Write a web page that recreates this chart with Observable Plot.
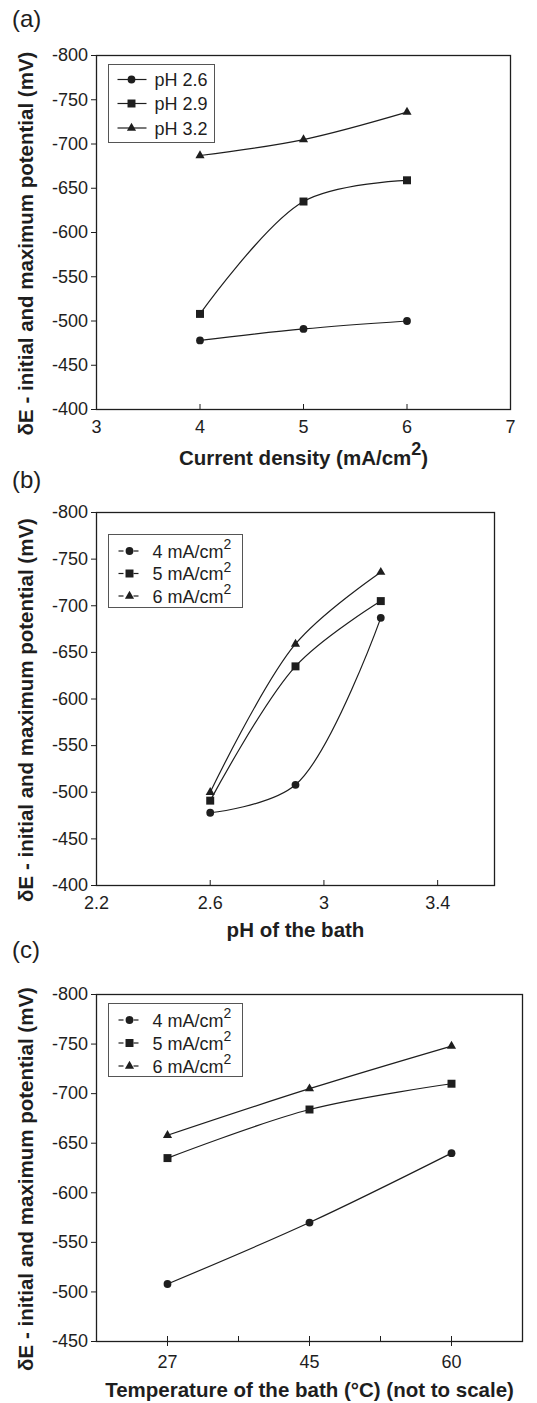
<!DOCTYPE html>
<html>
<head>
<meta charset="utf-8">
<script src="https://cdn.jsdelivr.net/npm/d3@7"></script>
<script src="https://cdn.jsdelivr.net/npm/@observablehq/plot@0.6"></script>
<style>
  html, body { margin: 0; padding: 0; background: #fff; }
  #root { position: relative; width: 537px; height: 1403px; overflow: hidden; background: #fff; }
  #root svg { position: absolute; left: 0; }
  g[aria-label="x-axis label"] text, g[aria-label="y-axis label"] text { font-weight: bold; font-size: 20.5px; }
</style>
</head>
<body>
<div id="root"></div>
<script>
// ---------------- data ----------------
// (a) potential vs current density, one series per bath pH
const currentDensity = [4, 5, 6];                 // mA/cm²
const pHNames = ["pH 2.6", "pH 2.9", "pH 3.2"];
const pH26 = [-478, -491, -500];
const pH29 = [-508, -635, -659];
const pH32 = [-687, -705, -736];

// (b) potential vs bath pH, one series per current density
const bathPH = [2.6, 2.9, 3.2];
const cdNames = ["4 mA/cm²", "5 mA/cm²", "6 mA/cm²"];
const cd4_pH = [-478, -508, -687];
const cd5_pH = [-491, -635, -705];
const cd6_pH = [-500, -659, -736];

// (c) potential vs bath temperature (categorical, not to scale)
const temperatures = ["27", "45", "60"];          // °C
const cd4_T = [-508, -570, -640];
const cd5_T = [-635, -684, -710];
const cd6_T = [-658, -705, -748];

// ticks and titles
const yTicksAB = [-800, -750, -700, -650, -600, -550, -500, -450, -400];
const yTicksC  = [-800, -750, -700, -650, -600, -550, -500, -450];
const xTicksA  = [3, 4, 5, 6, 7];
const xTicksB  = [2.2, 2.6, 3, 3.4];
const yTitle   = "δE - initial and maximum potential (mV)";
const xTitleA  = "Current density (mA/cm²)";
const xTitleB  = "pH of the bath";
const xTitleC  = "Temperature of the bath (°C) (not to scale)";
const panelTags = ["(a)", "(b)", "(c)"];

// ---------------- style ----------------
const INK = "#1e1e1e";
const FONT = '"Liberation Sans", Arial, Helvetica, sans-serif';
const SYMBOLS = ["circle", "square", "triangle"];
const RADII = [3.9, 4.5, 3.4];
const W = 537;
const SVGNS = "http://www.w3.org/2000/svg";

function yAxis(ticks) {
  return Plot.axisY({ticks, tickSize: 5, tickPadding: 3.5, tickFormat: d => String(d),
    label: yTitle, labelAnchor: "center", labelOffset: 78, labelArrow: "none"});
}

function makePanel(p) {
  const rows = [];
  p.series.forEach((vals, si) => vals.forEach((v, i) => rows.push({s: si, x: p.xs[i], y: v})));
  const marks = [Plot.frame({stroke: INK, strokeWidth: 1.3}), yAxis(p.yTicks), ...p.xAxes];
  p.series.forEach((_, si) => {
    const d = rows.filter(r => r.s === si);
    marks.push(Plot.line(d, {x: "x", y: "y", curve: "catmull-rom", stroke: INK, strokeWidth: 1.2}));
    marks.push(Plot.dot(d, {x: "x", y: "y", symbol: SYMBOLS[si], r: RADII[si], fill: INK, stroke: "none"}));
  });
  const svg = Plot.plot({
    width: W, height: p.height,
    marginTop: p.m[0], marginRight: p.m[1], marginBottom: p.m[2], marginLeft: p.m[3],
    style: {fontFamily: FONT, fontSize: "18px", color: INK, background: "transparent", overflow: "visible"},
    x: {type: "linear", domain: p.xDomain},
    y: {type: "linear", domain: p.yDomain},
    marks
  });
  svg.style.top = p.top + "px";
  return svg;
}

// write text with "²" rendered as a raised digit
function supText(el, str, supSize, rise) {
  while (el.firstChild) el.removeChild(el.firstChild);
  str.split("²").forEach((part, i) => {
    if (i > 0) {
      const s = document.createElementNS(SVGNS, "tspan");
      s.setAttribute("dy", -rise); s.setAttribute("font-size", supSize); s.textContent = "2";
      el.appendChild(s);
      if (part) {
        const t = document.createElementNS(SVGNS, "tspan");
        t.setAttribute("dy", rise); t.textContent = part;
        el.appendChild(t);
      }
    } else if (part) el.appendChild(document.createTextNode(part));
  });
}

const root = document.getElementById("root");

const panels = [
  makePanel({
    top: 0, height: 475, m: [55, 27, 66, 96],
    xDomain: [3, 7], yDomain: [-400, -800], yTicks: yTicksAB,
    xs: currentDensity, series: [pH26, pH29, pH32],
    xAxes: [Plot.axisX({ticks: xTicksA, tickSize: -5, tickPadding: 16, tickFormat: d => String(d),
      label: xTitleA, labelAnchor: "center", labelOffset: 55, labelArrow: "none"})]
  }),
  makePanel({
    top: 475, height: 475, m: [37, 43, 65, 96],
    xDomain: [2.2, 3.6], yDomain: [-400, -800], yTicks: yTicksAB,
    xs: bathPH, series: [cd4_pH, cd5_pH, cd6_pH],
    xAxes: [Plot.axisX({ticks: xTicksB, tickSize: -5, tickPadding: 16, tickFormat: d => String(d),
      label: xTitleB, labelAnchor: "center", labelOffset: 51, labelArrow: "none"})]
  }),
  makePanel({
    top: 950, height: 453, m: [44, 15, 62, 96],
    xDomain: [0.5, 3.5], yDomain: [-450, -800], yTicks: yTicksC,
    xs: temperatures.map((_, i) => i + 1), series: [cd4_T, cd5_T, cd6_T],
    xAxes: [
      Plot.axisX({ticks: temperatures.map((_, i) => i + 1), tickSize: 5, tickPadding: 9,
        tickFormat: i => temperatures[i - 1],
        label: xTitleC, labelAnchor: "center", labelOffset: 55, labelArrow: "none"}),
      Plot.axisX({ticks: [1, 1.5, 2, 2.5, 3], tickSize: -5, fill: "none", label: null})
    ]
  })
];

panels.forEach(svg => {
  root.appendChild(svg);
  const xl = svg.querySelector('g[aria-label="x-axis label"] text');
  if (xl && xl.textContent.includes("²")) supText(xl, xl.textContent, "18px", 10);
  const yl = svg.querySelector('g[aria-label="y-axis label"] text');
  if (yl) yl.setAttribute("dx", -11);
});

// ---------------- overlay: panel tags and legends ----------------
const overlay = d3.select(root).append("svg")
  .attr("width", W).attr("height", 1403).style("top", "0px")
  .style("font-family", FONT).attr("fill", INK);

const tagBaselines = [27, 488, 958];
panelTags.forEach((t, i) => overlay.append("text").attr("x", 12).attr("y", tagBaselines[i])
  .attr("font-size", 24).text(t));

const legends = [
  {x: 108.5, y: 64.5, w: 106, h: 78, rows: [15, 39, 63.5], names: pHNames, kind: "line", mx: 23, tx: 46},
  {x: 108.5, y: 534.5, w: 134, h: 73, rows: [16.5, 39, 61.5], names: cdNames, kind: "dash", mx: 21, tx: 44},
  {x: 108.5, y: 1003.5, w: 134, h: 73, rows: [16.5, 39.5, 62.5], names: cdNames, kind: "dash", mx: 21, tx: 44}
];
const symbolTypes = [d3.symbolCircle, d3.symbolSquare, d3.symbolTriangle];

legends.forEach(L => {
  const g = overlay.append("g");
  g.append("rect").attr("x", L.x).attr("y", L.y).attr("width", L.w).attr("height", L.h)
    .attr("fill", "#fff").attr("stroke", "#555").attr("stroke-width", 1);
  L.names.forEach((name, i) => {
    const cy = L.y + L.rows[i];
    const mx = L.x + L.mx;
    if (L.kind === "line") {
      g.append("line").attr("x1", L.x + 9).attr("x2", L.x + 38).attr("y1", cy).attr("y2", cy)
        .attr("stroke", INK).attr("stroke-width", 1.2);
    } else {
      [[-11, -6], [4, 9]].forEach(([a, b]) => g.append("line").attr("x1", mx + a).attr("x2", mx + b)
        .attr("y1", cy).attr("y2", cy).attr("stroke", INK).attr("stroke-width", 1.2));
    }
    g.append("path").attr("transform", `translate(${mx},${cy})`)
      .attr("d", d3.symbol(symbolTypes[i], RADII[i] * RADII[i] * Math.PI)()).attr("fill", INK);
    const t = g.append("text").attr("x", L.x + L.tx).attr("y", cy + 6.5).attr("font-size", 18);
    supText(t.node(), name, "14px", 8.5);
  });
});
</script>
</body>
</html>
